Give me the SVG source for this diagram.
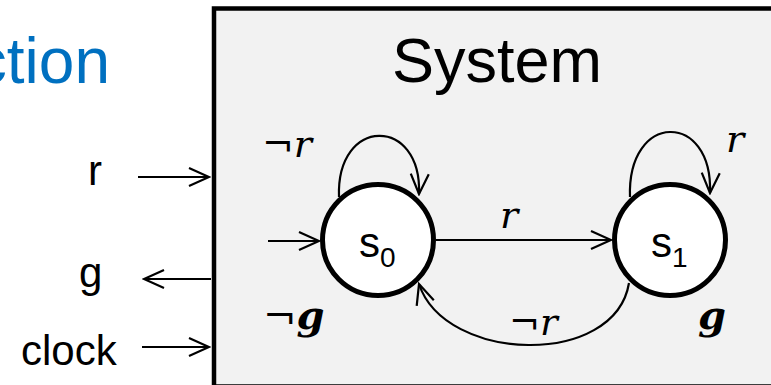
<svg xmlns="http://www.w3.org/2000/svg" width="771" height="385" viewBox="0 0 771 385">
<style>
.sans{font-family:"Liberation Sans",Arial,sans-serif;fill:#000}
.math{font-family:"DejaVu Serif","Liberation Serif",serif;font-style:italic;fill:#000}
.bold{font-weight:bold}
.state{fill:#fff;stroke:#000;stroke-width:5}
.edge{fill:none;stroke:#000;stroke-width:2.2}
.io{fill:none;stroke:#000;stroke-width:2}
</style>
<defs>
<marker id="arr" markerUnits="userSpaceOnUse" viewBox="-22 -11 24 22" refX="0" refY="0" markerWidth="24" markerHeight="22" orient="auto">
<path d="M-20,-9 L0,0 L-20,9" fill="none" stroke="#000" stroke-width="2.2"/>
</marker>
</defs>
<text class="sans" x="110" y="83" text-anchor="end" font-size="64" style="fill:#0070C0">ction</text>
<g id="system">
<rect x="214" y="8.5" width="600" height="378" fill="#f2f2f2" stroke="#000" stroke-width="4.5"/>
<text class="sans" x="497" y="82" text-anchor="middle" font-size="63">System</text>
</g>
<g id="inputs">
<text class="sans" x="88" y="185" font-size="42">r</text>
<text class="sans" x="79" y="287" font-size="42">g</text>
<text class="sans" x="21" y="365" font-size="42">clock</text>
</g>
<g id="connectors">
<path class="io" d="M138,177 L209,177" marker-end="url(#arr)"/>
<path class="io" d="M211,279 L144,279" marker-end="url(#arr)"/>
<path class="io" d="M142,347 L209,347" marker-end="url(#arr)"/>
<path class="edge" d="M268,241 L319,241" marker-end="url(#arr)"/>
<path class="edge" d="M436,240 L611,240" marker-end="url(#arr)"/>
<path class="edge" d="M339,197 C336,116 422,116 419,194" marker-end="url(#arr)"/>
<path class="edge" d="M630,197 C627,111 713,111 710,193" marker-end="url(#arr)"/>
<path class="edge" d="M629,283 C615,368 445,363 419,284" marker-end="url(#arr)"/>
</g>
<g id="s0">
<circle class="state" cx="378" cy="240" r="55.5"/>
<text class="sans" x="359" y="257" font-size="42">s<tspan font-size="28" dy="10">0</tspan></text>
</g>
<g id="s1">
<circle class="state" cx="670" cy="240" r="55.5"/>
<text class="sans" x="651" y="257" font-size="42">s<tspan font-size="28" dy="10">1</tspan></text>
</g>
<g id="labels">
<text class="math" x="262" y="157" font-size="38">¬r</text>
<text class="math" x="500" y="228" font-size="38">r</text>
<text class="math" x="726" y="152" font-size="38">r</text>
<text class="math" x="509" y="335" font-size="37">¬r</text>
<text class="math" x="263" y="329" font-size="40">¬<tspan class="bold">g</tspan></text>
<text class="math bold" x="698" y="329" font-size="40">g</text>
</g>
</svg>
